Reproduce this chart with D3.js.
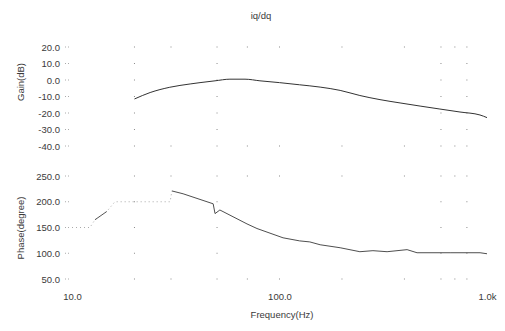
<html>
<head>
<meta charset="utf-8">
<script src="https://d3js.org/d3.v7.min.js"></script>
<style>
  body { margin: 0; background: #fff; }
  svg text { font-family: "Liberation Sans", Arial, sans-serif; font-size: 9.5px; fill: #3a3a3a; }
</style>
</head>
<body>
<svg id="chart" width="505" height="331"></svg>
<script>
// gain curve (Hz, dB)
var gainFreq = [20, 23.8, 29.6, 37.1, 41.4, 48.9, 57.7, 68.2, 80.5, 100, 125, 157, 196, 244, 305, 381, 476, 593, 741, 925, 1000];
var gainDb   = [-11.5, -7.6, -4.4, -2.4, -1.6, -0.5, 0.5, 0.5, -0.5, -1.6, -2.9, -4.3, -6.3, -9.4, -11.9, -13.9, -15.8, -17.6, -19.4, -21.2, -22.8];

// phase curve (Hz, degree); first part is the faint low-frequency trace
var phaseFreq = [10, 12.2, 12.9, 14.7, 16.1, 29.7, 30.3, 34.3, 47.9, 48.9, 51.6, 69.7, 77.9, 104, 125, 140, 157, 196, 244, 282, 330, 412, 460, 664, 926, 1000];
var phaseDeg  = [150, 150, 165, 181, 200, 200, 221, 215.5, 196, 177, 184, 157, 148, 130, 124, 122, 116.5, 110.7, 103, 105, 103, 107, 101, 101, 101, 99];
var faintCount = 7;

var gainTicks  = [20, 10, 0, -10, -20, -30, -40];
var phaseTicks = [250, 200, 150, 100, 50];
var freqTicks  = [10, 100, 1000];
var freqLabels = ["10.0", "100.0", "1.0k"];
var gridFreq   = [20, 30, 50, 70, 100, 200, 400, 600, 700, 800];
var innerFreq  = [20, 50, 600, 800];

var svg = d3.select("#chart");

var x = d3.scaleLog().domain([10, 1000]).range([72, 487]);
var yGain = d3.scaleLinear().domain([-40, 20]).range([146, 47]);
var yPhase = d3.scaleLinear().domain([50, 250]).range([279, 176]);

var fmt = function(d) { return d.toFixed(1); };

function panel(yScale, ticks) {
  // sparse dotted grid, the way the scan shows it
  var g = svg.append("g");
  ticks.forEach(function(t, i) {
    var cols = (i == 0 || i == ticks.length - 1) ? gridFreq : innerFreq;
    cols.forEach(function(f) {
      g.append("rect").attr("x", x(f) - 0.5).attr("y", yScale(t) - 0.5)
        .attr("width", 1).attr("height", 1).attr("fill", "#8a8a8a");
    });
    g.append("line").attr("x1", 65).attr("x2", 71)
      .attr("y1", yScale(t)).attr("y2", yScale(t))
      .attr("stroke", "#aaa").attr("stroke-dasharray", "1,2");
  });

  var ax = svg.append("g").attr("transform", "translate(66,0)")
    .call(d3.axisLeft(yScale).tickValues(ticks).tickSize(0).tickPadding(6).tickFormat(fmt));
  ax.select(".domain").remove();
  ax.selectAll("text").attr("fill", "#3a3a3a").style("font-size", "9.5px")
    .style("font-family", "Liberation Sans, Arial, sans-serif");
}

panel(yGain, gainTicks);
panel(yPhase, phaseTicks);

// gain line
var gainPts = gainFreq.map(function(f, i) { return [f, gainDb[i]]; });
svg.append("path").datum(gainPts)
  .attr("fill", "none").attr("stroke", "#333").attr("stroke-width", 1)
  .attr("d", d3.line().curve(d3.curveMonotoneX)
    .x(function(d) { return x(d[0]); }).y(function(d) { return yGain(d[1]); }));

// phase line
var phasePts = phaseFreq.map(function(f, i) { return [f, phaseDeg[i]]; });
var phaseLine = d3.line().x(function(d) { return x(d[0]); }).y(function(d) { return yPhase(d[1]); });
svg.append("path").datum(phasePts.slice(0, faintCount))
  .attr("fill", "none").attr("stroke", "#aaa").attr("stroke-width", 1)
  .attr("stroke-dasharray", "1,3").attr("d", phaseLine);
svg.append("path").datum(phasePts.slice(2, 4))
  .attr("fill", "none").attr("stroke", "#555").attr("stroke-width", 1).attr("d", phaseLine);
svg.append("path").datum(phasePts.slice(faintCount - 1))
  .attr("fill", "none").attr("stroke", "#3a3a3a").attr("stroke-width", 0.9).attr("d", phaseLine);

// frequency axis
var xa = svg.append("g").attr("transform", "translate(0,290)")
  .call(d3.axisBottom(x).tickValues(freqTicks).tickSize(0).tickPadding(3)
    .tickFormat(function(d, i) { return freqLabels[i]; }));
xa.select(".domain").remove();
xa.selectAll("text").attr("fill", "#3a3a3a").style("font-size", "9.5px")
  .style("font-family", "Liberation Sans, Arial, sans-serif");

// titles
svg.append("text").attr("x", 261).attr("y", 19).attr("text-anchor", "middle").text("iq/dq");
svg.append("text").attr("x", 282).attr("y", 318).attr("text-anchor", "middle").text("Frequency(Hz)");
svg.append("text").attr("transform", "translate(24,82) rotate(-90)").attr("text-anchor", "middle").text("Gain(dB)");
svg.append("text").attr("transform", "translate(24,228) rotate(-90)").attr("text-anchor", "middle").text("Phase(degree)");
</script>
</body>
</html>
